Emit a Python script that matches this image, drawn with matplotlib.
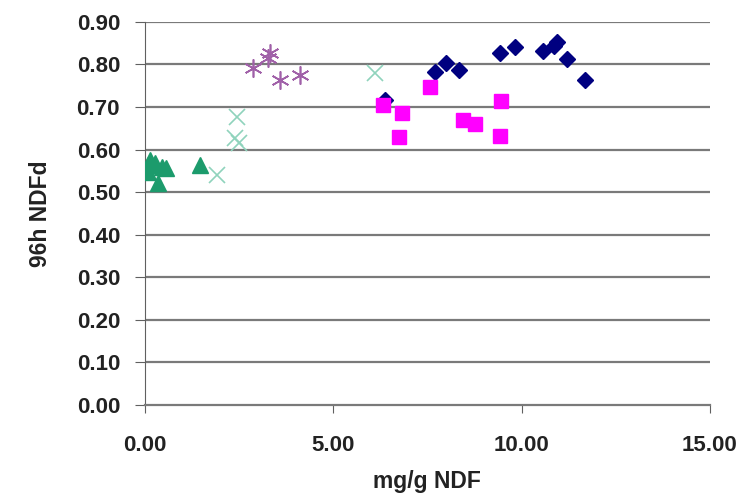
import matplotlib.pyplot as plt

plt.rcParams['font.family'] = ['Liberation Sans', 'DejaVu Sans']

# green triangles
tri_x = [0.08, 0.13, 0.27, 0.45, 0.08, 0.35, 1.46, 0.56]
tri_y = [0.564, 0.576, 0.569, 0.559, 0.547, 0.522, 0.564, 0.557]

# light teal crosses
cross_x = [1.91, 2.44, 2.40, 2.50, 6.10]
cross_y = [0.540, 0.677, 0.627, 0.616, 0.780]

# purple asterisks
star_x = [2.87, 3.27, 3.32, 3.58, 4.11]
star_y = [0.792, 0.815, 0.826, 0.764, 0.775]

# navy diamonds
dia_x = [6.37, 7.70, 7.99, 8.34, 9.42, 9.82, 10.57, 10.85, 10.95, 11.20, 11.68]
dia_y = [0.717, 0.782, 0.803, 0.787, 0.827, 0.841, 0.832, 0.843, 0.852, 0.813, 0.764]

# magenta squares
sq_x = [6.32, 6.82, 6.74, 7.57, 8.44, 8.76, 9.45, 9.42]
sq_y = [0.705, 0.686, 0.630, 0.747, 0.670, 0.660, 0.714, 0.632]

y_ticks = [0.0, 0.1, 0.2, 0.3, 0.4, 0.5, 0.6, 0.7, 0.8, 0.9]
x_ticks = [0.0, 5.0, 10.0, 15.0]

fig = plt.figure(figsize=(7.44, 4.98), dpi=100)
ax = fig.add_axes([0.195, 0.187, 0.759, 0.769])

for yv in y_ticks[1:]:
    ax.axhline(yv, color='#7a7a7a', lw=1.6, zorder=1)

ax.plot(dia_x, dia_y, 'D', color='#000080', ms=8.5, ls='none', zorder=3)
ax.plot(sq_x, sq_y, 's', color='#ff00ff', ms=10, ls='none', zorder=4)
ax.plot(star_x, star_y, ls='none', marker=(6, 2, 0), color='#a060a8', ms=13, mew=1.2, zorder=3)
ax.plot(cross_x, cross_y, 'x', color='#8fd3bc', ms=11, mew=1.2, ls='none', zorder=3)
ax.plot(tri_x, tri_y, '^', color='#1c9b6c', ms=11, ls='none', zorder=3)

ax.set_xlim(0, 15)
ax.set_ylim(0, 0.9)
ax.set_xticks(x_ticks)
ax.set_yticks(y_ticks)
ax.set_xticklabels([f'{v:.2f}' for v in x_ticks], fontweight='bold')
ax.set_yticklabels([f'{v:.2f}' for v in y_ticks], fontweight='bold')

ax.spines['right'].set_visible(False)
ax.spines['top'].set_visible(False)
ax.spines['left'].set_color('#606060')
ax.spines['bottom'].set_color('#7a7a7a')
ax.spines['bottom'].set_linewidth(1.6)
ax.tick_params(axis='y', direction='out', length=7, color='#606060', pad=11, labelsize=16, labelcolor='#222222')
ax.tick_params(axis='x', direction='out', length=6, color='#606060', pad=16, labelsize=16, labelcolor='#222222')

ax.set_xlabel('mg/g NDF', fontsize=16.5, fontweight='bold', labelpad=10, color='#222222')
ax.set_ylabel('96h NDFd', fontsize=16.5, fontweight='bold', labelpad=18, color='#222222')

fig.savefig('out.png', dpi=100)
